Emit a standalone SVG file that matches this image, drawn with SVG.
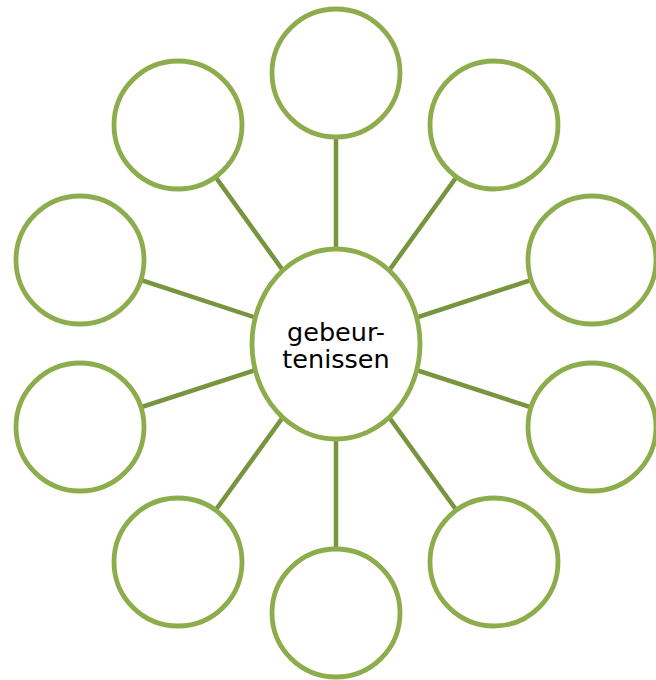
<svg xmlns="http://www.w3.org/2000/svg" width="656" height="680" viewBox="0 0 656 680">
<style>
.c{fill:#fff;stroke:#8DAD4D;stroke-width:4.8}
.l{stroke:#77953F;stroke-width:4.5}
.t{font-family:"DejaVu Sans",Verdana,sans-serif;font-size:25.5px;fill:#000;text-anchor:middle}
</style>
<rect width="656" height="680" fill="#fff"/>
<g id="connectors">
<line class="l" x1="336" y1="344" x2="336" y2="73"/>
<line class="l" x1="336" y1="344" x2="494" y2="125"/>
<line class="l" x1="336" y1="344" x2="592" y2="260"/>
<line class="l" x1="336" y1="344" x2="592" y2="427"/>
<line class="l" x1="336" y1="344" x2="494" y2="562"/>
<line class="l" x1="336" y1="344" x2="336" y2="613"/>
<line class="l" x1="336" y1="344" x2="178" y2="562"/>
<line class="l" x1="336" y1="344" x2="80" y2="427"/>
<line class="l" x1="336" y1="344" x2="80" y2="260"/>
<line class="l" x1="336" y1="344" x2="178" y2="125"/>
</g>
<g id="n-top"><circle class="c" cx="336" cy="73" r="64"/></g>
<g id="n-topright"><circle class="c" cx="494" cy="125" r="64"/></g>
<g id="n-right1"><circle class="c" cx="592" cy="260" r="64"/></g>
<g id="n-right2"><circle class="c" cx="592" cy="427" r="64"/></g>
<g id="n-bottomright"><circle class="c" cx="494" cy="562" r="64"/></g>
<g id="n-bottom"><circle class="c" cx="336" cy="613" r="64"/></g>
<g id="n-bottomleft"><circle class="c" cx="178" cy="562" r="64"/></g>
<g id="n-left2"><circle class="c" cx="80" cy="427" r="64"/></g>
<g id="n-left1"><circle class="c" cx="80" cy="260" r="64"/></g>
<g id="n-topleft"><circle class="c" cx="178" cy="125" r="64"/></g>
<g id="n-center">
<ellipse class="c" cx="336" cy="344" rx="84" ry="95"/>
<text class="t" x="336" y="341">gebeur-</text>
<text class="t" x="336" y="368">tenissen</text>
</g>
</svg>
